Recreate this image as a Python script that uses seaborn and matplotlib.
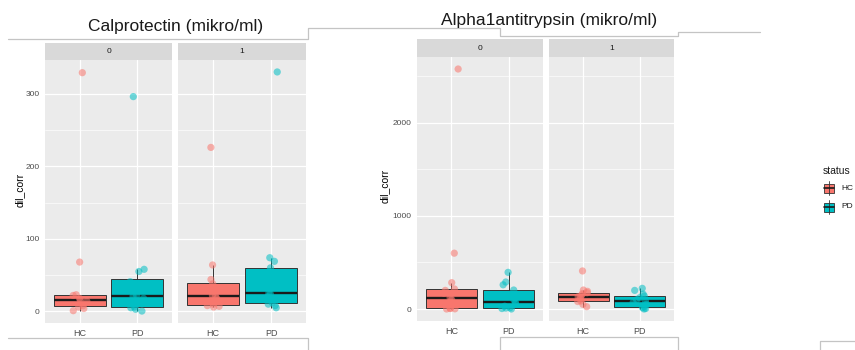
import numpy as np
import pandas as pd
import matplotlib
matplotlib.use("Agg")
import matplotlib.pyplot as plt
from matplotlib.lines import Line2D
from matplotlib.patches import Rectangle
from matplotlib.ticker import MultipleLocator
import seaborn as sns

# ---- data -------------------------------------------------------------
statuses = ["HC", "PD"]
groups = [0, 1]

calpro_hc_0 = [1, 4, 6, 8, 14, 16, 18, 22, 23, 68, 329]
calpro_pd_0 = [0.5, 3, 5, 6, 18, 21, 22, 35, 41, 55, 58, 296]
calpro_hc_1 = [6, 7, 8, 10, 18, 21, 22, 30, 38, 44, 64, 226]
calpro_pd_1 = [5, 8, 10, 12, 20, 24, 25, 40, 55, 60, 69, 74, 330]

alpha_hc_0 = [0, 2, 5, 8, 60, 100, 122, 170, 200, 215, 283, 600, 2580]
alpha_pd_0 = [0, 5, 10, 14, 30, 60, 72, 100, 150, 204, 260, 290, 394]
alpha_hc_1 = [25, 50, 80, 86, 110, 125, 132, 150, 165, 175, 190, 204, 409]
alpha_pd_1 = [0, 5, 15, 25, 50, 70, 86, 100, 120, 140, 160, 200, 222]

titles = ["Calprotectin (mikro/ml)", "Alpha1antitrypsin (mikro/ml)"]
y_major = [100, 1000]
y_minor = [50, 500]
palette = {"HC": "#F8766D", "PD": "#00BFC4"}


def long_frame(sets):
    rows = []
    for (g, s), vals in sets.items():
        for v in vals:
            rows.append({"group": g, "status": s, "dil_corr": v})
    return pd.DataFrame(rows)


frames = [
    long_frame({(0, "HC"): calpro_hc_0, (0, "PD"): calpro_pd_0,
                (1, "HC"): calpro_hc_1, (1, "PD"): calpro_pd_1}),
    long_frame({(0, "HC"): alpha_hc_0, (0, "PD"): alpha_pd_0,
                (1, "HC"): alpha_hc_1, (1, "PD"): alpha_pd_1}),
]

# ---- figure ----------------------------------------------------------
sns.set_theme(style="white")
plt.rcParams["font.family"] = ["Liberation Sans", "DejaVu Sans"]

W, H = 855, 350
fig = plt.figure(figsize=(W / 100, H / 100), dpi=100)
fig.patch.set_facecolor("white")


def px_axes(x0, x1, y0, y1):
    return fig.add_axes([x0 / W, 1 - y1 / H, (x1 - x0) / W, (y1 - y0) / H])


def fx(x):
    return x / W


def fy(y):
    return 1 - y / H


# panel geometry for the two faceted charts: (panel x-ranges, strip top, panel top, panel bottom)
layouts = [
    {"panels": [(45, 172), (178, 306)], "strip": 43, "top": 60, "bottom": 323,
     "title_xy": (176, 26), "ylab_xy": (20, 190)},
    {"panels": [(417, 543), (549, 674)], "strip": 39, "top": 57, "bottom": 321,
     "title_xy": (549, 20), "ylab_xy": (385, 186)},
]

np.random.seed(7)

for df, lay, title, ymaj, ymin in zip(frames, layouts, titles, y_major, y_minor):
    lo, hi = df["dil_corr"].min(), df["dil_corr"].max()
    pad = 0.05 * (hi - lo)
    for gi, (x0, x1) in zip(groups, lay["panels"]):
        ax = px_axes(x0, x1, lay["top"], lay["bottom"])
        sub = df[df["group"] == gi]
        ax.set_facecolor("#EBEBEB")
        sns.boxplot(data=sub, x="status", y="dil_corr", hue="status",
                    order=statuses, hue_order=statuses, palette=palette,
                    width=0.9, showfliers=False, showcaps=False,
                    linewidth=0.7, linecolor="#333333", saturation=1,
                    medianprops=dict(linewidth=1.7, color="#1A1A1A"),
                    legend=False, ax=ax)
        sns.stripplot(data=sub, x="status", y="dil_corr", hue="status",
                      order=statuses, hue_order=statuses, palette=palette,
                      jitter=0.13, size=5.2, alpha=0.55, linewidth=0,
                      legend=False, ax=ax, zorder=4)
        ax.set_xlim(-0.6, 1.6)
        ax.set_ylim(lo - pad, hi + pad)
        ax.yaxis.set_major_locator(MultipleLocator(ymaj))
        ax.yaxis.set_minor_locator(MultipleLocator(ymin))
        ax.set_axisbelow(True)
        ax.grid(True, which="major", color="white", linewidth=0.9)
        ax.grid(True, which="minor", axis="y", color="white", linewidth=0.45)
        for sp in ax.spines.values():
            sp.set_visible(False)
        ax.set_xlabel("")
        ax.set_ylabel("")
        ax.tick_params(axis="both", which="major", length=2.5, width=0.6,
                       color="#333333", labelsize=6, labelcolor="#4D4D4D", pad=1.5)
        ax.tick_params(axis="x", labelsize=6.5)
        ax.tick_params(axis="y", which="minor", length=0)
        if gi == 1:
            ax.tick_params(axis="y", left=False, labelleft=False)

        # facet strip
        sax = px_axes(x0, x1, lay["strip"], lay["top"])
        sax.set_facecolor("#D9D9D9")
        sax.set_xticks([])
        sax.set_yticks([])
        for sp in sax.spines.values():
            sp.set_visible(False)
        sax.text(0.5, 0.5, str(gi), ha="center", va="center", fontsize=6,
                 color="#1A1A1A", transform=sax.transAxes)

    tx, ty = lay["title_xy"]
    fig.text(fx(tx), fy(ty), title, ha="center", va="center", fontsize=12.5,
             color="#1A1A1A")
    lx, ly = lay["ylab_xy"]
    fig.text(fx(lx), fy(ly), "dil_corr", rotation=90, ha="center", va="center",
             fontsize=7.5, color="black")

# ---- legend ----------------------------------------------------------
fig.text(fx(823), fy(171), "status", ha="left", va="center", fontsize=7.5,
         color="#1A1A1A")
for lab, yc in zip(statuses, [188, 207]):
    fig.add_artist(Line2D([fx(829), fx(829)], [fy(yc - 7), fy(yc + 7)],
                          transform=fig.transFigure, color="#333333", lw=0.6))
    fig.add_artist(Rectangle((fx(824), fy(yc + 4.5)), 10 / W, 9 / H,
                             transform=fig.transFigure, facecolor=palette[lab],
                             edgecolor="#333333", lw=0.6))
    fig.add_artist(Line2D([fx(824), fx(834)], [fy(yc), fy(yc)],
                          transform=fig.transFigure, color="#1A1A1A", lw=1.2))
    fig.text(fx(841), fy(yc), lab, ha="left", va="center", fontsize=6,
             color="#1A1A1A")

# ---- frame edges -------------------------------------------------------
edges = [
    [(8, 39), (308, 39), (308, 28), (500, 28), (500, 36), (678, 36), (678, 32), (760, 32)],
    [(8, 338), (308, 338), (308, 350)],
    [(500, 350), (500, 337), (678, 337), (678, 350)],
    [(820, 350), (820, 341), (855, 341)],
]
for path in edges:
    xs = [fx(p[0]) for p in path]
    ys = [fy(p[1]) for p in path]
    fig.add_artist(Line2D(xs, ys, transform=fig.transFigure, color="#C4C4C4", lw=0.9))

fig.savefig("out.png", dpi=100, facecolor="white")
